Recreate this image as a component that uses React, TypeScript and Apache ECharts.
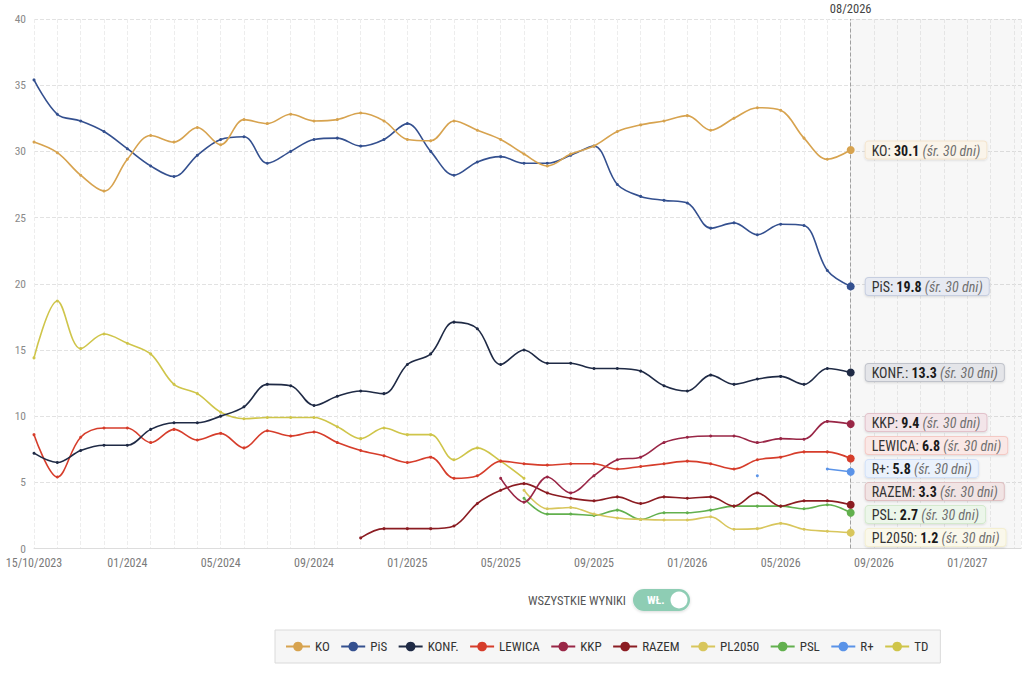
import React, { useEffect, useRef } from 'react';
import * as echarts from 'echarts';

// x positions are month indices: 0 = 15/10/2023, 4 = 01/2024, ... 35 = 08/2026
const X_TICK_LABELS = ['15/10/2023', '01/2024', '05/2024', '09/2024', '01/2025', '05/2025', '09/2025', '01/2026', '05/2026', '09/2026', '01/2027'];
const X_TICK_STEP = 4;
const X_MAX = 42.3;
const CURRENT_INDEX = 35;
const CURRENT_LABEL = '08/2026';
const Y_MIN = 0;
const Y_MAX = 40;
const Y_STEP = 5;

const KO = [30.7, 29.9, 28.2, 27.0, 29.4, 31.2, 30.7, 31.8, 30.5, 32.4, 32.1, 32.8, 32.3, 32.4, 32.9, 32.3, 30.9, 30.8, 32.3, 31.6, 30.9, 29.8, 28.9, 29.8, 30.4, 31.5, 32.0, 32.3, 32.7, 31.6, 32.5, 33.3, 33.1, 31.0, 29.4, 30.1];
const PIS = [35.4, 32.8, 32.3, 31.5, 30.2, 28.9, 28.1, 29.7, 30.9, 31.1, 29.1, 30.0, 30.9, 31.0, 30.4, 30.9, 32.1, 30.0, 28.2, 29.2, 29.6, 29.1, 29.1, 29.7, 30.4, 27.5, 26.6, 26.3, 26.1, 24.2, 24.6, 23.7, 24.5, 24.4, 21.0, 19.8];
const KONF = [7.2, 6.5, 7.4, 7.8, 7.8, 9.0, 9.5, 9.5, 10.0, 10.7, 12.4, 12.3, 10.8, 11.5, 11.9, 11.7, 13.9, 14.7, 17.1, 16.6, 13.9, 15.0, 14.0, 14.0, 13.6, 13.6, 13.4, 12.3, 11.9, 13.1, 12.4, 12.8, 13.0, 12.4, 13.6, 13.3];
const LEWICA = [8.6, 5.4, 8.4, 9.1, 9.1, 8.0, 9.0, 8.2, 8.7, 7.6, 8.9, 8.5, 8.8, 8.0, 7.4, 7.0, 6.5, 6.9, 5.3, 5.5, 6.6, 6.4, 6.3, 6.4, 6.4, 6.0, 6.2, 6.4, 6.6, 6.4, 6.0, 6.7, 6.9, 7.3, 7.3, 6.8];
const KKP_START = 20;
const KKP = [5.3, 3.5, 5.4, 4.2, 5.5, 6.7, 6.9, 8.0, 8.4, 8.5, 8.5, 8.0, 8.3, 8.25, 9.6, 9.4];
const RAZEM_START = 14;
const RAZEM = [0.8, 1.5, 1.5, 1.5, 1.7, 3.4, 4.4, 4.9, 4.2, 3.8, 3.6, 3.9, 3.4, 3.9, 3.8, 3.9, 3.2, 4.2, 3.2, 3.6, 3.6, 3.3];
const PL2050_START = 21;
const PL2050 = [4.4, 3.0, 3.1, 2.6, 2.3, 2.2, 2.15, 2.15, 2.4, 1.45, 1.5, 1.9, 1.45, 1.3, 1.2];
const PSL_START = 21;
const PSL = [3.8, 2.6, 2.6, 2.5, 2.9, 2.2, 2.7, 2.7, 2.9, 3.2, 3.2, 3.2, 3.0, 3.3, 2.7];
const RPLUS_START = 31;
const RPLUS = [5.5, null, null, 6.0, 5.8];
const TD_START = 0;
const TD = [14.4, 18.7, 15.1, 16.2, 15.5, 14.7, 12.4, 11.7, 10.3, 9.8, 9.9, 9.9, 9.9, 9.2, 8.3, 9.1, 8.6, 8.6, 6.7, 7.6, 6.6, 5.3];

const AVG_NOTE = ' (śr. 30 dni)';

const PARTIES = [
  { name: 'KO', color: '#d7a34f', start: 0, values: KO, endLabel: true },
  { name: 'PiS', color: '#34508f', start: 0, values: PIS, endLabel: true },
  { name: 'KONF.', color: '#1f2a45', start: 0, values: KONF, endLabel: true },
  { name: 'LEWICA', color: '#d63d2b', start: 0, values: LEWICA, endLabel: true },
  { name: 'KKP', color: '#992646', start: KKP_START, values: KKP, endLabel: true },
  { name: 'RAZEM', color: '#8b1c22', start: RAZEM_START, values: RAZEM, endLabel: true },
  { name: 'PL2050', color: '#d8c65c', start: PL2050_START, values: PL2050, endLabel: true },
  { name: 'PSL', color: '#62b04e', start: PSL_START, values: PSL, endLabel: true },
  { name: 'R+', color: '#5a93e8', start: RPLUS_START, values: RPLUS, endLabel: true },
  { name: 'TD', color: '#cfc54a', start: TD_START, values: TD, endLabel: false },
];

const FONT = "'Roboto Condensed','Liberation Sans Narrow','DejaVu Sans Condensed',Roboto,sans-serif";
const LABEL_GAP = 23;

function tint(hex: string, amount: number): string {
  const n = parseInt(hex.slice(1), 16);
  const r = (n >> 16) & 255, g = (n >> 8) & 255, b = n & 255;
  const m = (c: number) => Math.round(255 - (255 - c) * amount);
  return `rgb(${m(r)},${m(g)},${m(b)})`;
}

// spread end labels vertically so they do not overlap (cluster-centred)
function spreadLabels(items: { name: string; y: number }[], gap: number, minY: number, maxY: number) {
  const sorted = items.slice().sort((a, b) => a.y - b.y);
  let clusters = sorted.map((it) => ({ items: [it], top: it.y }));
  const place = (c: { items: { name: string; y: number }[]; top: number }) => {
    const n = c.items.length;
    let top = c.items.reduce((s, it, k) => s + it.y - k * gap, 0) / n;
    top = Math.max(minY, Math.min(top, maxY - (n - 1) * gap));
    c.top = top;
  };
  clusters.forEach(place);
  let changed = true;
  while (changed) {
    changed = false;
    for (let i = 1; i < clusters.length; i++) {
      const prev = clusters[i - 1];
      if (clusters[i].top < prev.top + prev.items.length * gap) {
        const merged = { items: prev.items.concat(clusters[i].items), top: 0 };
        place(merged);
        clusters.splice(i - 1, 2, merged);
        changed = true;
        break;
      }
    }
  }
  const out: Record<string, number> = {};
  clusters.forEach((c) => c.items.forEach((it, k) => { out[it.name] = c.top + k * gap - it.y; }));
  return out;
}

function buildSeries(offsets: Record<string, number>) {
  return PARTIES.map((p, si) => {
    const data = p.values.map((v, k) => {
      const idx = p.start + k;
      if (v === null || v === undefined) return [idx, '-'];
      const isLast = k === p.values.length - 1 && p.endLabel;
      if (!isLast) return [idx, v];
      return {
        value: [idx, v],
        symbolSize: 8,
        label: {
          show: true,
          position: 'right',
          distance: 11,
          offset: [0, offsets[p.name] || 0],
          formatter: `{n|${p.name}: }{v|${(v as number).toFixed(1)}}{s|${AVG_NOTE}}`,
          backgroundColor: tint(p.color, 0.12),
          borderColor: tint(p.color, 0.28),
          borderWidth: 1,
          borderRadius: 3,
          padding: [2, 6, 1, 6],
          shadowColor: 'rgba(0,0,0,0.12)',
          shadowBlur: 2,
          shadowOffsetY: 1,
          rich: {
            n: { fontSize: 14, color: '#333', fontFamily: FONT },
            v: { fontSize: 14, color: '#1a1a1a', fontWeight: 'bold', fontFamily: FONT },
            s: { fontSize: 14, color: '#6f6f6f', fontStyle: 'italic', fontFamily: FONT },
          },
        },
      };
    });
    const s: any = {
      name: p.name,
      type: 'line',
      smooth: 0.35,
      connectNulls: false,
      symbol: 'circle',
      symbolSize: 3,
      showSymbol: true,
      lineStyle: { width: 1.6, color: p.color },
      itemStyle: { color: p.color },
      z: 10 + (PARTIES.length - si),
      data,
    };
    if (si === 0) {
      s.markArea = {
        silent: true,
        itemStyle: { color: 'rgba(60,60,70,0.045)' },
        data: [[{ xAxis: CURRENT_INDEX }, { xAxis: X_MAX }]],
      };
      s.markLine = {
        silent: true,
        symbol: 'none',
        lineStyle: { type: 'dashed', color: '#a0a0a0', width: 1 },
        label: { show: true, position: 'end', formatter: CURRENT_LABEL, color: '#444', fontSize: 12.5, fontFamily: FONT, distance: 4 },
        data: [{ xAxis: CURRENT_INDEX }],
      };
    }
    return s;
  });
}

export default function App() {
  const ref = useRef<HTMLDivElement>(null);
  useEffect(() => {
    if (!ref.current) return;
    const chart = echarts.init(ref.current, undefined, { renderer: 'svg' });
    chart.setOption({
      animation: false,
      backgroundColor: '#ffffff',
      textStyle: { fontFamily: FONT },
      grid: { left: 34, right: 0, top: 19, bottom: 125.5, containLabel: false },
      xAxis: {
        type: 'value',
        min: 0,
        max: X_MAX,
        interval: 1,
        axisLine: { show: true, lineStyle: { color: '#dddddd' } },
        axisTick: { show: false },
        axisLabel: {
          color: '#7a7a7a',
          fontSize: 12,
          margin: 8,
          fontFamily: FONT,
          formatter: (v: number) => {
            if (Math.abs(v - Math.round(v)) > 1e-6) return '';
            const r = Math.round(v);
            if (r % X_TICK_STEP !== 0) return '';
            return X_TICK_LABELS[r / X_TICK_STEP] ?? '';
          },
        },
        splitLine: { show: true, lineStyle: { type: 'dashed', color: '#ededed' } },
      },
      yAxis: {
        type: 'value',
        min: Y_MIN,
        max: Y_MAX,
        interval: Y_STEP,
        axisLine: { show: false },
        axisTick: { show: false },
        axisLabel: { color: '#8a8a8a', fontSize: 11.5, margin: 8, fontFamily: FONT },
        splitLine: { show: true, lineStyle: { type: 'dashed', color: '#e2e2e2' } },
      },
      legend: {
        left: 275,
        top: 630,
        padding: [10, 12, 10, 10],
        itemGap: 10.5,
        itemWidth: 24,
        itemHeight: 12,
        backgroundColor: '#f6f6f6',
        borderColor: '#dadada',
        borderWidth: 1,
        textStyle: { color: '#333', fontSize: 13, fontFamily: FONT },
        data: PARTIES.map((p) => p.name),
      },
      graphic: [
        {
          type: 'text',
          x: 626,
          y: 600,
          style: { text: 'WSZYSTKIE WYNIKI', fill: '#555', fontSize: 12.5, fontFamily: FONT, align: 'right', verticalAlign: 'middle' },
        },
        {
          type: 'rect',
          shape: { x: 633, y: 589, width: 57, height: 22, r: 11 },
          style: { fill: '#8ecdb4', shadowColor: 'rgba(0,0,0,0.15)', shadowBlur: 3, shadowOffsetY: 1 },
        },
        {
          type: 'text',
          x: 647,
          y: 600,
          style: { text: 'WŁ.', fill: '#ffffff', fontSize: 11.5, fontWeight: 'bold', fontFamily: FONT, verticalAlign: 'middle' },
        },
        {
          type: 'circle',
          shape: { cx: 679, cy: 600, r: 8.5 },
          style: { fill: '#ffffff' },
        },
      ],
      series: buildSeries({}),
    });

    // compute label positions from the axis scales and spread them apart
    const items: { name: string; y: number }[] = [];
    PARTIES.forEach((p) => {
      if (!p.endLabel) return;
      const k = p.values.length - 1;
      const v = p.values[k] as number;
      const pt = chart.convertToPixel({ xAxisIndex: 0, yAxisIndex: 0 }, [p.start + k, v]) as number[];
      items.push({ name: p.name, y: pt[1] });
    });
    const top = chart.convertToPixel({ yAxisIndex: 0 }, Y_MAX) as number;
    const bottom = chart.convertToPixel({ yAxisIndex: 0 }, Y_MIN) as number;
    const offsets = spreadLabels(items, LABEL_GAP, top + 10, bottom - 11);
    chart.setOption({ series: buildSeries(offsets) });

    return () => chart.dispose();
  }, []);
  return <div ref={ref} style={{ position: 'fixed', left: 0, top: 0, width: 1024, height: 674 }} />;
}
